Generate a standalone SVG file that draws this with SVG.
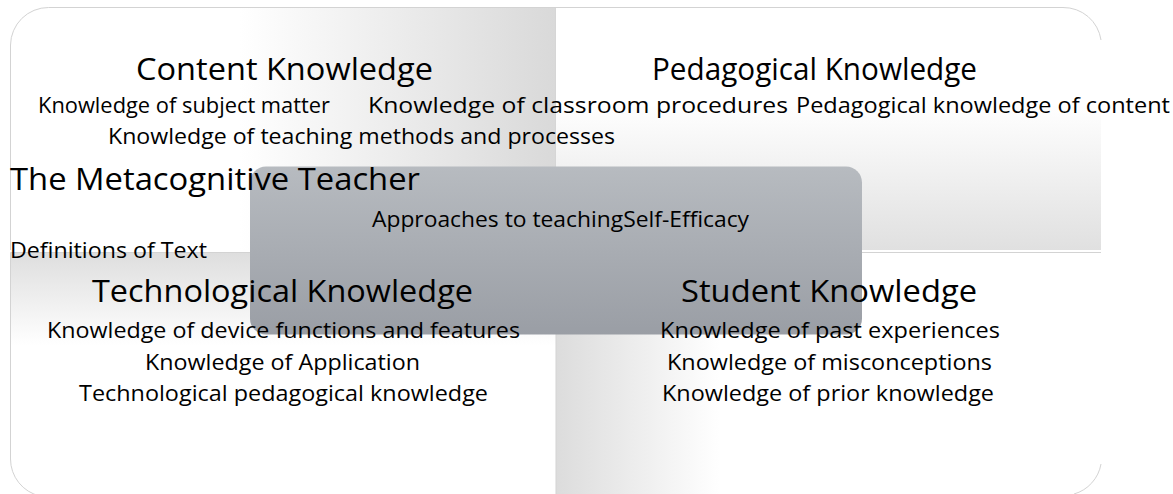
<svg xmlns="http://www.w3.org/2000/svg" width="1173" height="494" viewBox="0 0 1173 494">
<defs>
<linearGradient id="gTL" x1="0" y1="0" x2="1" y2="0"><stop offset="0" stop-color="#ffffff"/><stop offset="0.42" stop-color="#ffffff"/><stop offset="1" stop-color="#d9d9d9"/></linearGradient>
<linearGradient id="gTR" x1="0" y1="0" x2="0" y2="1"><stop offset="0" stop-color="#ffffff"/><stop offset="0.4" stop-color="#ffffff"/><stop offset="1" stop-color="#e0e0e0"/></linearGradient>
<linearGradient id="gBL" x1="0" y1="0" x2="0" y2="1"><stop offset="0" stop-color="#dedede"/><stop offset="0.38" stop-color="#ffffff"/><stop offset="1" stop-color="#ffffff"/></linearGradient>
<linearGradient id="gBR" x1="0" y1="0" x2="1" y2="0"><stop offset="0" stop-color="#dcdcdc"/><stop offset="0.3" stop-color="#ffffff"/><stop offset="1" stop-color="#ffffff"/></linearGradient>
<linearGradient id="gC" x1="0" y1="0" x2="0" y2="1"><stop offset="0" stop-color="#b7bbc0"/><stop offset="1" stop-color="#9a9ea5"/></linearGradient>
</defs>
<style>
.q{stroke:none}
.edge{fill:none;stroke:#d3d3d3;stroke-width:1}
.head{font-family:"Open Sans","Noto Sans",sans-serif;font-size:31px;fill:#000}
.sub{font-family:"Open Sans","Noto Sans",sans-serif;font-size:21px;fill:#000}
</style>
<rect width="1173" height="494" fill="#ffffff"/>
<g id="node-content-knowledge">
<path class="q" fill="url(#gTL)" d="M10.5,250 V45 A38,38 0 0 1 48.5,7.5 H556 V250 Z"/>
<path class="edge" d="M10.5,250 V45 A38,38 0 0 1 48.5,7.5 H556 V250"/>
</g>
<g id="node-pedagogical-knowledge">
<path class="q" fill="url(#gTR)" d="M556,7.5 H1063 A38,38 0 0 1 1101,45 V250 H556 Z"/>
<path class="edge" d="M556,7.5 H1063 A38,38 0 0 1 1101,40" stroke="#d8d8d8"/>
</g>
<g id="node-technological-knowledge">
<path class="q" fill="url(#gBL)" d="M10.5,252.5 H556 V497 H48.5 A38,38 0 0 1 10.5,459 Z"/>
<path class="edge" d="M556,252.5 H10.5 V459 A38,38 0 0 0 40,496"/>
</g>
<g id="node-student-knowledge">
<path class="q" fill="url(#gBR)" d="M556,252.5 H1101 V459 A38,38 0 0 1 1063,497 H556 Z"/>
<path class="edge" d="M556,497 V252.5 H1101"/>
<path class="edge" d="M1101,464 A38,38 0 0 1 1074,494" stroke="#dcdcdc"/>
</g>
<g id="node-metacognitive-teacher">
<rect x="250" y="166.5" width="612" height="168" rx="16" ry="16" fill="url(#gC)"/>
<text class="head" x="10" y="190" textLength="410" lengthAdjust="spacingAndGlyphs">The Metacognitive Teacher</text>
<text class="sub" x="372" y="227" textLength="377" lengthAdjust="spacingAndGlyphs">Approaches to teachingSelf-Efficacy</text>
<text class="sub" x="10" y="258" textLength="197" lengthAdjust="spacingAndGlyphs">Definitions of Text</text>
</g>
<g id="text-content-knowledge">
<text class="head" x="136" y="80" textLength="297" lengthAdjust="spacingAndGlyphs">Content Knowledge</text>
<text class="sub" x="38" y="113" textLength="292" lengthAdjust="spacingAndGlyphs">Knowledge of subject matter</text>
<text class="sub" x="108" y="144" textLength="507" lengthAdjust="spacingAndGlyphs">Knowledge of teaching methods and processes</text>
</g>
<g id="text-pedagogical-knowledge">
<text class="head" x="652" y="80" textLength="325" lengthAdjust="spacingAndGlyphs">Pedagogical Knowledge</text>
<text class="sub" x="368" y="113" textLength="420" lengthAdjust="spacingAndGlyphs">Knowledge of classroom procedures</text>
<text class="sub" x="796" y="113" textLength="374" lengthAdjust="spacingAndGlyphs">Pedagogical knowledge of content</text>
</g>
<g id="text-technological-knowledge">
<text class="head" x="92" y="302" textLength="381" lengthAdjust="spacingAndGlyphs">Technological Knowledge</text>
<text class="sub" x="47" y="338" textLength="473" lengthAdjust="spacingAndGlyphs">Knowledge of device functions and features</text>
<text class="sub" x="145" y="370" textLength="275" lengthAdjust="spacingAndGlyphs">Knowledge of Application</text>
<text class="sub" x="79" y="401" textLength="409" lengthAdjust="spacingAndGlyphs">Technological pedagogical knowledge</text>
</g>
<g id="text-student-knowledge">
<text class="head" x="681" y="302" textLength="296" lengthAdjust="spacingAndGlyphs">Student Knowledge</text>
<text class="sub" x="660" y="338" textLength="340" lengthAdjust="spacingAndGlyphs">Knowledge of past experiences</text>
<text class="sub" x="667" y="370" textLength="325" lengthAdjust="spacingAndGlyphs">Knowledge of misconceptions</text>
<text class="sub" x="662" y="401" textLength="332" lengthAdjust="spacingAndGlyphs">Knowledge of prior knowledge</text>
</g>
<g id="connectors"></g>
</svg>
